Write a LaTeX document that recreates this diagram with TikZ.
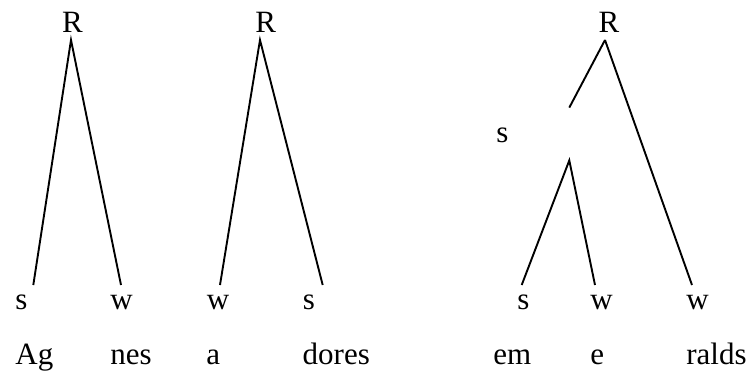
\documentclass[tikz,border=0pt]{standalone}
\usepackage{fontspec}
\setmainfont{Liberation Serif}
\begin{document}
\begin{tikzpicture}[x=0.5pt,y=-0.5pt,
  lbl/.style={anchor=base west,inner sep=0pt,font=\rmfamily\fontsize{15.5}{18}\selectfont},
  branch/.style={line width=0.95pt}]
  \useasboundingbox (0,0) rectangle (752,377);
  % Agnes
  \node[lbl] (r1) at (61.7,32.3) {R};
  \coordinate (t1) at (71,40);
  \coordinate (a1) at (33.3,285);
  \coordinate (b1) at (121,285);
  \draw[branch] (a1) -- (t1) -- (b1);
  \node[lbl] (s1) at (15,309.3) {s};
  \node[lbl] (w1) at (110,309.3) {w};
  \node[lbl] (ag) at (15,364.3) {Ag};
  \node[lbl] (nes) at (110,364.3) {nes};
  % adores
  \node[lbl] (r2) at (255,32.3) {R};
  \coordinate (t2) at (260,40);
  \coordinate (a2) at (220,285);
  \coordinate (b2) at (322.7,285);
  \draw[branch] (a2) -- (t2) -- (b2);
  \node[lbl] (w2) at (206.5,309.3) {w};
  \node[lbl] (s2) at (302.5,309.3) {s};
  \node[lbl] (a) at (206,364.3) {a};
  \node[lbl] (dores) at (302.3,364.3) {dores};
  % emeralds
  \node[lbl] (r3) at (598.3,32.3) {R};
  \coordinate (t3) at (605,40);
  \node[inner sep=0pt,minimum height=26,minimum width=0pt] (m3) at (569.3,134) {};
  \node[lbl] (sm) at (496,142.7) {s};
  \coordinate (a3) at (521.7,285);
  \coordinate (b3) at (595,285);
  \coordinate (c3) at (692,285);
  \draw[branch] (t3) -- (m3.north);
  \draw[branch] (a3) -- (m3.south) -- (b3);
  \draw[branch] (t3) -- (c3);
  \node[lbl] (s3) at (517,309.3) {s};
  \node[lbl] (w3) at (590,309.3) {w};
  \node[lbl] (w4) at (686,309.3) {w};
  \node[lbl] (em) at (493,364.3) {em};
  \node[lbl] (e) at (590,364.3) {e};
  \node[lbl] (ralds) at (686,364.3) {ralds};
\end{tikzpicture}
\end{document}
